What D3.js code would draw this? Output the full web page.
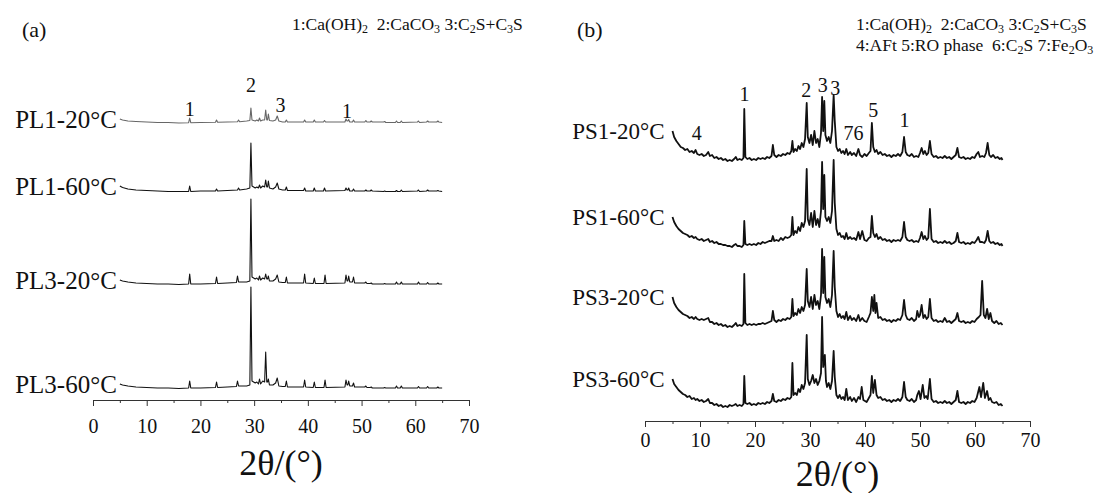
<!DOCTYPE html>
<html>
<head>
<meta charset="utf-8">
<script src="https://cdn.jsdelivr.net/npm/d3@7"></script>
<style>
body { margin: 0; background: #fff; }
svg { display: block; }
text { font-family: "Liberation Serif", "Times New Roman", serif; fill: #111; }
</style>
</head>
<body>
<div id="chart"></div>
<script>
// axis ticks (2theta, degrees)
var majorTicks = [0, 10, 20, 30, 40, 50, 60, 70];
var minorTicks = [5, 15, 25, 35, 45, 55, 65];

// ---- panel (a) ----
var namesA = ["PL1-20°C", "PL1-60°C", "PL3-20°C", "PL3-60°C"];
var offsetsA = [277, 208, 115, 11];   // stacking offset of each pattern (a.u.)

var pl1_20 = [[5,4],[5.5,3],[6.5,2],[8,1.5],[10,1],[12,0.5],[14,0.5],[16,0],[17.8,0.3],[18.0,5],[18.2,0.3],[20,0.5],[22.8,0.8],[23.0,3],[23.2,0.8],[25,1],[26.9,1.2],[27.1,3],[27.3,1.2],[28.6,2],[29.2,2.5],[29.4,15],[29.6,3],[30.2,2],[30.5,3],[30.8,2],[31.0,5],[31.2,2],[31.6,3],[31.95,3],[32.15,13],[32.35,3],[32.5,3],[32.65,9],[32.85,2.5],[33.5,2],[34.0,3],[34.3,7],[34.6,2],[35.3,1],[35.8,1],[36.0,3],[36.2,1],[39.2,1],[39.4,3],[39.6,1],[41.0,1],[41.2,3],[41.4,1],[42.9,1],[43.1,2.5],[43.3,1],[46.9,1],[47.1,4],[47.3,2],[47.45,2],[47.6,3.5],[47.8,1],[48.3,1],[48.5,3],[48.7,1],[50.6,1],[50.8,2.5],[51.0,1],[51.6,1],[51.8,2],[52.0,1],[54.1,1],[54.3,1.5],[54.5,0.5],[56.3,0.5],[56.5,2],[56.7,0.5],[57.2,0.5],[57.4,2],[57.6,0.5],[60.4,1],[60.6,2],[60.8,0.5],[62.1,1],[62.3,2],[62.5,1],[64.0,1],[64.2,2],[64.4,1],[65,0.5]];

var pl1_60 = [[5,6],[5.5,4.5],[6.5,3],[8,2],[10,1.5],[12,1],[14,0.5],[16,0.5],[17.8,0.5],[18.0,6],[18.2,0.5],[20,1],[22.8,1],[23.0,3],[23.2,1],[25,1.5],[26.9,2],[27.1,4],[27.3,2],[28.6,3],[29.2,4],[29.4,49],[29.6,6],[30.2,4],[30.5,5],[30.8,4],[31.0,7],[31.2,4],[31.6,6],[31.95,5],[32.15,12],[32.35,5],[32.5,5],[32.65,11],[32.85,4],[33.5,3],[34.0,5],[34.3,9],[34.6,3],[35.3,2],[35.8,2],[36.0,5],[36.2,1.5],[39.2,1.5],[39.4,4],[39.6,1],[41.0,1],[41.2,4],[41.4,1],[42.9,1],[43.1,4],[43.3,1],[46.9,1.5],[47.1,4],[47.3,2],[47.45,2],[47.6,4],[47.8,1],[48.3,1],[48.5,3],[48.7,1],[50.6,1],[50.8,2],[51.0,1],[51.6,1],[51.8,2],[52.0,1],[54.1,0.5],[54.3,1],[54.5,0.5],[56.3,0.5],[56.5,1.5],[56.7,0.5],[57.2,0.5],[57.4,2],[57.6,0.5],[60.4,1],[60.6,2],[60.8,0.5],[62.1,1],[62.3,2],[62.5,1],[64.0,1],[64.2,1.5],[64.4,1],[65,0.5]];

var pl3_20 = [[5,5],[5.5,4],[6.5,3],[8,2],[10,1.5],[12,1],[14,1],[16,0.5],[17.8,1],[18.0,11],[18.2,1],[20,1],[22.8,1.5],[23.0,8],[23.2,1.5],[25,2],[26.7,2.5],[26.9,9],[27.1,3],[28.6,3],[29.2,4],[29.4,86],[29.6,8],[30.2,6],[30.5,7],[30.8,5],[31.0,9],[31.2,5],[31.6,7],[31.95,6],[32.15,11],[32.35,6],[32.5,6],[32.65,9],[32.85,4],[33.5,4],[34.0,6],[34.3,10],[34.6,3],[35.3,2.5],[35.8,2.5],[36.0,8],[36.2,2],[39.2,2],[39.4,11],[39.6,2],[41.0,1.5],[41.2,7],[41.4,1.5],[43.0,1.5],[43.2,10],[43.4,1.5],[46.9,2],[47.1,10],[47.3,4],[47.45,4],[47.6,9],[47.8,3],[48.3,3],[48.5,8],[48.7,2],[50.6,2],[50.8,3],[51.0,1.5],[51.6,1.5],[51.8,2],[52.0,1],[54.1,1],[54.3,1.5],[54.5,1],[56.3,1],[56.5,3],[56.7,1],[57.2,1],[57.4,3],[57.6,1],[60.4,1],[60.6,3],[60.8,1],[62.1,1],[62.3,2.5],[62.5,1],[64.0,1],[64.2,2],[64.4,1],[65,1]];

var pl3_60 = [[5,5],[5.5,4],[6.5,3],[8,2],[10,1.5],[12,1],[14,1],[16,0.5],[17.8,1],[18.0,8],[18.2,1],[20,1],[22.8,1.5],[23.0,7],[23.2,1.5],[25,2],[26.7,2.5],[26.9,8],[27.1,3],[28.6,3],[29.2,4],[29.4,102],[29.6,8],[30.2,6],[30.5,7],[30.8,5],[31.0,10],[31.2,5],[31.6,8],[31.95,7],[32.15,37],[32.35,7],[32.5,7],[32.65,10],[32.85,4],[33.5,4],[34.0,6],[34.3,11],[34.6,3],[35.3,2.5],[35.8,2.5],[36.0,8],[36.2,2],[39.2,2],[39.4,9],[39.6,2],[41.0,1.5],[41.2,7],[41.4,1.5],[43.0,1.5],[43.2,9],[43.4,1.5],[46.9,2],[47.1,9],[47.3,4],[47.45,4],[47.6,8],[47.8,3],[48.3,3],[48.5,6],[48.7,2],[50.6,2],[50.8,3],[51.0,1.5],[51.6,1.5],[51.8,2],[52.0,1],[54.1,1],[54.3,1.5],[54.5,1],[56.3,1],[56.5,3],[56.7,1],[57.2,1],[57.4,3],[57.6,1],[60.4,1],[60.6,2.5],[60.8,1],[62.1,1],[62.3,2.5],[62.5,1],[64.0,1],[64.2,2],[64.4,1],[65,1]];

var seriesA = [pl1_20, pl1_60, pl3_20, pl3_60];
var colorsA = ["#666", "#111", "#111", "#111"];
// peak marks above PL1-20°C : [2theta, label, intensity]
var marksA = [[18.0, "1", 284], [29.4, "2", 308], [34.9, "3", 288], [47.3, "1", 282]];
var legendA = [["1:Ca(OH)", "2"], ["  2:CaCO", "3"], [" 3:C", "2"], ["S+C", "3"], ["S", ""]];

// ---- panel (b) ----
var namesB = ["PS1-20°C", "PS1-60°C", "PS3-20°C", "PS3-60°C"];
var offsetsB = [260, 174, 94, 14];

var ps1_20 = [[5,30],[5.3,24],[5.7,20],[6.1,17],[6.5,14],[6.9,13],[7.3,11],[7.7,12],[8.1,9],[8.5,10],[8.9,8],[9.2,11],[9.5,7],[9.9,6],[10.3,7],[10.7,5],[11.1,6],[11.5,9],[11.8,5],[12.2,6],[12.6,3],[13.0,4],[13.4,2],[13.8,3],[14.2,1],[14.6,2],[15.0,0],[15.4,1],[15.8,0],[16.2,2],[16.5,4],[16.8,1],[17.2,2],[17.6,1],[17.9,3],[18.05,52],[18.25,4],[18.6,2],[19.0,3],[19.4,1],[19.8,2],[20.2,1],[20.6,3],[21.0,2],[21.4,3],[21.8,2],[22.2,4],[22.6,3],[23.0,5],[23.25,16],[23.5,6],[23.9,4],[24.3,6],[24.7,5],[25.1,7],[25.5,6],[25.9,8],[26.3,7],[26.6,10],[26.8,20],[27.0,9],[27.3,12],[27.6,10],[27.9,15],[28.2,12],[28.5,18],[28.8,14],[29.1,22],[29.4,58],[29.6,24],[29.9,18],[30.2,26],[30.5,16],[30.8,30],[31.1,18],[31.4,22],[31.7,14],[32.0,28],[32.2,64],[32.4,30],[32.6,60],[32.8,26],[33.1,20],[33.4,24],[33.7,18],[34.0,30],[34.3,66],[34.5,40],[34.8,14],[35.1,10],[35.4,12],[35.7,8],[36.0,10],[36.3,7],[36.6,12],[36.9,6],[37.3,9],[37.6,6],[38.0,8],[38.4,5],[38.8,12],[39.1,6],[39.5,4],[39.9,7],[40.3,5],[40.7,8],[41.0,10],[41.25,38],[41.5,14],[41.8,9],[42.1,11],[42.4,7],[42.8,9],[43.2,6],[43.6,7],[44.0,5],[44.4,6],[44.8,4],[45.2,6],[45.6,5],[46.0,7],[46.4,5],[46.8,9],[47.1,24],[47.4,9],[47.7,6],[48.1,5],[48.5,7],[48.9,4],[49.3,5],[49.7,4],[50.0,8],[50.3,13],[50.6,7],[50.9,10],[51.2,6],[51.5,8],[51.8,20],[52.1,7],[52.5,4],[52.9,5],[53.3,3],[53.7,4],[54.1,3],[54.5,5],[54.9,3],[55.3,4],[55.7,2],[56.1,4],[56.5,6],[56.8,13],[57.1,4],[57.5,3],[57.9,4],[58.3,2],[58.7,3],[59.1,2],[59.5,4],[59.9,3],[60.3,7],[60.6,9],[60.9,4],[61.3,5],[61.7,4],[62.0,8],[62.3,18],[62.6,6],[62.9,4],[63.3,6],[63.7,3],[64.1,4],[64.5,2],[64.8,3],[65.0,1]];

var ps1_60 = [[5,30],[5.3,25],[5.7,21],[6.1,18],[6.5,16],[6.9,14],[7.3,13],[7.7,12],[8.1,10],[8.5,11],[8.9,9],[9.2,10],[9.5,8],[9.9,7],[10.3,8],[10.7,6],[11.1,7],[11.5,8],[11.8,5],[12.2,6],[12.6,4],[13.0,5],[13.4,3],[13.8,3],[14.2,2],[14.6,2],[15.0,1],[15.4,1],[15.8,0],[16.2,2],[16.5,3],[16.8,1],[17.2,1],[17.6,0],[17.9,2],[18.05,26],[18.25,3],[18.6,2],[19.0,3],[19.4,2],[19.8,3],[20.2,2],[20.6,4],[21.0,3],[21.4,5],[21.8,4],[22.2,5],[22.6,6],[23.0,6],[23.25,11],[23.5,6],[23.9,7],[24.3,6],[24.7,9],[25.1,7],[25.5,10],[25.9,9],[26.3,10],[26.6,12],[26.8,30],[27.0,12],[27.3,16],[27.6,14],[27.9,20],[28.2,16],[28.5,24],[28.8,20],[29.1,26],[29.4,78],[29.6,28],[29.9,22],[30.2,34],[30.5,20],[30.8,36],[31.1,22],[31.4,28],[31.7,20],[32.0,36],[32.2,85],[32.4,38],[32.6,72],[32.8,30],[33.1,26],[33.4,30],[33.7,24],[34.0,36],[34.3,87],[34.5,44],[34.8,18],[35.1,12],[35.4,14],[35.7,10],[36.0,11],[36.3,8],[36.6,14],[36.9,8],[37.3,10],[37.6,8],[38.0,9],[38.4,7],[38.8,15],[39.1,8],[39.5,16],[39.9,7],[40.3,6],[40.7,9],[41.0,10],[41.25,31],[41.5,14],[41.8,10],[42.1,13],[42.4,8],[42.8,10],[43.2,7],[43.6,8],[44.0,6],[44.4,7],[44.8,5],[45.2,7],[45.6,6],[46.0,7],[46.4,6],[46.8,10],[47.1,25],[47.4,10],[47.7,7],[48.1,6],[48.5,7],[48.9,5],[49.3,6],[49.7,5],[50.0,9],[50.3,15],[50.6,8],[50.9,11],[51.2,7],[51.5,9],[51.8,38],[52.1,8],[52.5,5],[52.9,6],[53.3,4],[53.7,5],[54.1,4],[54.5,6],[54.9,4],[55.3,5],[55.7,3],[56.1,4],[56.5,6],[56.8,14],[57.1,5],[57.5,4],[57.9,5],[58.3,3],[58.7,4],[59.1,3],[59.5,5],[59.9,4],[60.3,7],[60.6,10],[60.9,5],[61.3,5],[61.7,4],[62.0,7],[62.3,16],[62.6,6],[62.9,4],[63.3,5],[63.7,3],[64.1,4],[64.5,2],[64.8,3],[65.0,1]];

var ps3_20 = [[5,30],[5.3,24],[5.7,20],[6.1,17],[6.5,15],[6.9,13],[7.3,12],[7.7,11],[8.1,9],[8.5,10],[8.9,8],[9.2,10],[9.5,8],[9.9,7],[10.3,8],[10.7,7],[11.1,8],[11.5,9],[11.8,5],[12.2,5],[12.6,3],[13.0,4],[13.4,2],[13.8,3],[14.2,1],[14.6,2],[15.0,0],[15.4,1],[15.8,0],[16.2,2],[16.5,4],[16.8,1],[17.2,2],[17.6,1],[17.9,3],[18.05,53],[18.25,4],[18.6,2],[19.0,3],[19.4,2],[19.8,3],[20.2,2],[20.6,3],[21.0,3],[21.4,4],[21.8,3],[22.2,4],[22.6,5],[23.0,6],[23.25,16],[23.5,7],[23.9,5],[24.3,7],[24.7,6],[25.1,8],[25.5,7],[25.9,9],[26.3,8],[26.6,10],[26.8,28],[27.0,11],[27.3,14],[27.6,12],[27.9,18],[28.2,14],[28.5,20],[28.8,16],[29.1,22],[29.4,58],[29.6,26],[29.9,20],[30.2,30],[30.5,18],[30.8,32],[31.1,22],[31.4,26],[31.7,18],[32.0,32],[32.2,78],[32.4,34],[32.6,70],[32.8,30],[33.1,24],[33.4,28],[33.7,20],[34.0,32],[34.3,76],[34.5,40],[34.8,16],[35.1,10],[35.4,13],[35.7,9],[36.0,11],[36.3,8],[36.6,15],[36.9,7],[37.3,11],[37.6,7],[38.0,9],[38.4,6],[38.8,12],[39.1,6],[39.5,9],[39.9,6],[40.3,5],[40.7,10],[41.0,14],[41.25,30],[41.5,16],[41.7,32],[41.9,14],[42.1,24],[42.4,9],[42.8,10],[43.2,7],[43.6,8],[44.0,6],[44.4,7],[44.8,5],[45.2,7],[45.6,6],[46.0,8],[46.4,7],[46.8,12],[47.1,27],[47.4,12],[47.7,8],[48.1,7],[48.5,9],[48.9,6],[49.3,8],[49.5,16],[49.8,10],[50.0,12],[50.3,22],[50.6,9],[50.9,12],[51.2,8],[51.5,10],[51.8,28],[52.1,9],[52.5,6],[52.9,7],[53.3,5],[53.7,6],[54.1,5],[54.5,9],[54.9,5],[55.3,6],[55.7,4],[56.1,6],[56.5,8],[56.8,14],[57.1,6],[57.5,5],[57.9,6],[58.3,4],[58.7,5],[59.1,4],[59.5,6],[59.9,5],[60.3,8],[60.7,10],[61.0,12],[61.3,46],[61.6,12],[61.9,9],[62.2,18],[62.5,8],[62.8,14],[63.1,6],[63.5,4],[63.9,6],[64.3,3],[64.7,4],[65.0,2]];

var ps3_60 = [[5,28],[5.3,23],[5.7,20],[6.1,17],[6.5,15],[6.9,13],[7.3,12],[7.7,10],[8.1,11],[8.5,8],[8.9,9],[9.2,7],[9.5,8],[9.9,6],[10.3,7],[10.7,5],[11.1,6],[11.5,8],[11.8,4],[12.2,4],[12.6,2],[13.0,3],[13.4,1],[13.8,2],[14.2,0],[14.6,1],[15.0,0],[15.4,2],[15.8,1],[16.2,2],[16.5,3],[16.8,1],[17.2,2],[17.6,1],[17.9,3],[18.05,31],[18.25,4],[18.6,3],[19.0,4],[19.4,2],[19.8,3],[20.2,2],[20.6,4],[21.0,3],[21.4,4],[21.8,3],[22.2,5],[22.6,4],[23.0,6],[23.25,13],[23.5,6],[23.9,5],[24.3,7],[24.7,6],[25.1,8],[25.5,7],[25.9,9],[26.3,8],[26.6,10],[26.8,44],[27.0,12],[27.3,14],[27.6,12],[27.9,18],[28.2,15],[28.5,22],[28.8,18],[29.1,24],[29.4,72],[29.6,28],[29.9,22],[30.2,26],[30.5,32],[30.8,24],[31.1,28],[31.4,22],[31.7,26],[32.0,34],[32.2,90],[32.4,40],[32.7,52],[32.9,26],[33.1,20],[33.4,24],[33.7,18],[34.0,26],[34.3,56],[34.5,30],[34.8,12],[35.1,9],[35.4,12],[35.7,8],[36.0,10],[36.3,7],[36.6,18],[36.9,7],[37.3,10],[37.6,6],[38.0,9],[38.4,5],[38.8,10],[39.1,8],[39.4,20],[39.7,7],[40.3,5],[40.7,9],[41.0,12],[41.25,31],[41.5,14],[41.8,27],[42.1,12],[42.4,9],[42.8,10],[43.2,7],[43.6,8],[44.0,6],[44.4,7],[44.8,5],[45.2,7],[45.6,6],[46.0,8],[46.4,6],[46.8,10],[47.1,25],[47.4,10],[47.7,7],[48.1,6],[48.5,8],[48.9,5],[49.3,7],[49.5,12],[49.8,16],[50.1,8],[50.5,22],[50.8,9],[51.1,11],[51.4,8],[51.8,28],[52.1,8],[52.5,5],[52.9,6],[53.3,4],[53.7,5],[54.1,4],[54.5,6],[54.9,4],[55.3,5],[55.7,3],[56.1,5],[56.5,7],[56.8,16],[57.1,5],[57.5,4],[57.9,5],[58.3,3],[58.7,5],[59.1,4],[59.5,6],[59.9,5],[60.3,9],[60.8,20],[61.1,10],[61.5,24],[61.8,9],[62.2,16],[62.5,7],[62.8,9],[63.1,5],[63.5,4],[63.9,5],[64.3,2],[64.7,3],[65.0,1]];

var seriesB = [ps1_20, ps1_60, ps3_20, ps3_60];
// peak marks above PS1-20°C : [2theta, label, intensity]
var marksB = [[18.1, "1", 320], [29.3, "2", 324], [32.3, "3", 329], [34.6, "3", 326], [41.5, "5", 304], [47.2, "1", 294], [9.4, "4", 281], [37.0, "7", 281], [38.8, "6", 281]];
var legendB1 = [["1:Ca(OH)", "2"], ["  2:CaCO", "3"], [" 3:C", "2"], ["S+C", "3"], ["S", ""]];
var legendB2 = [["4:AFt 5:RO phase  6:C", "2"], ["S 7:Fe", "2"], ["O", "3"]];

var W = 1115, H = 493;
var svg = d3.select("#chart").append("svg")
    .attr("width", W)
    .attr("height", H);

function drawPanel(opt) {
    var x = d3.scaleLinear().domain([0, 70]).range([opt.x0, opt.x1]);
    var y = d3.scaleLinear().domain([0, opt.yMax]).range([opt.axisY, opt.axisY - opt.yMax]);
    var g = svg.append("g");

    // x axis: major ticks with labels, minor ticks without
    var ax = g.append("g")
        .attr("transform", `translate(0,${opt.axisY})`)
        .call(d3.axisBottom(x).tickValues(majorTicks).tickSize(6).tickPadding(opt.tickPad).tickSizeOuter(0));
    ax.select(".domain").attr("stroke", "#333");
    ax.selectAll(".tick line").attr("stroke", "#333");
    ax.selectAll(".tick text").style("font-size", "20px").attr("fill", "#111")
        .style("font-family", '"Liberation Serif", serif');
    g.append("g")
        .attr("transform", `translate(0,${opt.axisY})`)
        .call(d3.axisBottom(x).tickValues(minorTicks).tickSize(3).tickFormat(""))
        .call(s => s.select(".domain").remove())
        .selectAll(".tick line").attr("stroke", "#333");

    g.append("text")
        .attr("x", x(35))
        .attr("y", opt.titleY)
        .attr("text-anchor", "middle")
        .style("font-size", "36px")
        .text("2θ/(°)");

    var line = d3.line()
        .x(d => x(d[0]))
        .y(d => y(d[1]));

    opt.series.forEach(function(s, i) {
        var off = opt.offsets[i];
        g.append("path")
            .datum(s.map(d => [d[0], d[1] + off]))
            .attr("fill", "none")
            .attr("stroke", opt.colors ? opt.colors[i] : "#111")
            .attr("stroke-width", opt.strokeW)
            .attr("stroke-linejoin", "round")
            .attr("d", line);

        g.append("text")
            .attr("x", x(s[0][0]) - opt.labelGap)
            .attr("y", y(s[0][1] + off))
            .attr("dy", "0.35em")
            .attr("text-anchor", "end")
            .style("font-size", opt.labelSize)
            .text(opt.names[i]);
    });

    opt.marks.forEach(function(m) {
        g.append("text")
            .attr("x", x(m[0]))
            .attr("y", y(m[2]))
            .attr("text-anchor", "middle")
            .style("font-size", "20px")
            .text(m[1]);
    });

    g.append("text")
        .attr("x", opt.tagX)
        .attr("y", 37)
        .style("font-size", "22px")
        .text(opt.tag);

    // legend lines with subscripts
    opt.legend.forEach(function(parts, li) {
        var t = g.append("text")
            .attr("x", opt.legendX)
            .attr("y", 30 + li * 21)
            .attr("xml:space", "preserve")
            .style("font-size", "17.5px")
            .style("white-space", "pre");
        var lowered = false;
        parts.forEach(function(p) {
            t.append("tspan").attr("dy", lowered ? -3 : 0).text(p[0]);
            lowered = false;
            if (p[1]) {
                t.append("tspan").attr("dy", 3).style("font-size", "12px").text(p[1]);
                lowered = true;
            }
        });
    });
}

drawPanel({
    x0: 93, x1: 469, axisY: 400, yMax: 315, tickPad: 13, titleY: 475,
    series: seriesA, offsets: offsetsA, names: namesA, colors: colorsA, strokeW: 1.1,
    labelGap: 3, labelSize: "25px",
    marks: marksA, tag: "(a)", tagX: 22, legend: [legendA], legendX: 292
});

drawPanel({
    x0: 645, x1: 1030, axisY: 421, yMax: 335, tickPad: 6, titleY: 486,
    series: seriesB, offsets: offsetsB, names: namesB, strokeW: 1.8,
    labelGap: 8, labelSize: "23px",
    marks: marksB, tag: "(b)", tagX: 577, legend: [legendB1, legendB2], legendX: 856
});
</script>
</body>
</html>
